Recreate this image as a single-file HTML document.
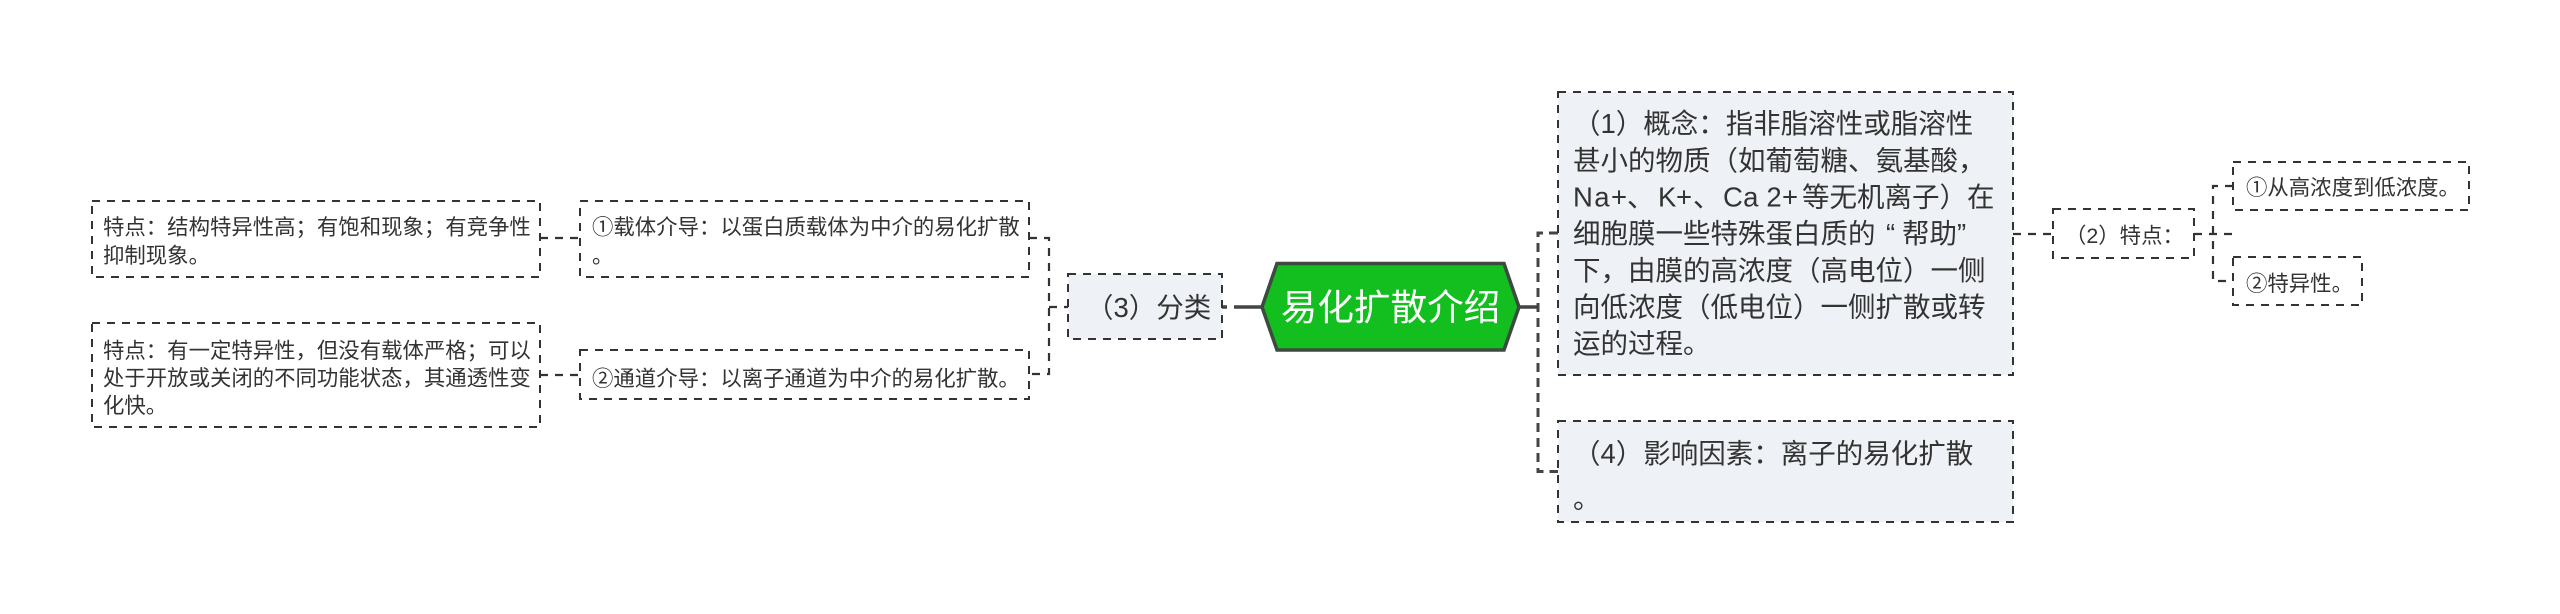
<!DOCTYPE html>
<html><head><meta charset="utf-8"><style>
html,body{margin:0;padding:0;background:#fff}
svg{display:block}
text{font-family:"Liberation Sans","Noto Sans CJK SC",sans-serif;fill:#333;white-space:pre}
.b{stroke:#333;stroke-width:2;stroke-dasharray:8 7;fill:#fff}
.g{fill:#eef1f5}
.c{stroke:#333;stroke-width:2.2;stroke-dasharray:8 7;fill:none}
.t{font-size:27.5px}
.s{font-size:21.4px}
</style></head><body>
<svg width="2560" height="614" viewBox="0 0 2560 614" xmlns="http://www.w3.org/2000/svg">
<rect width="2560" height="614" fill="#fff"/>
<!-- connectors -->
<path class="c" d="M540 238H580M540 375H580"/>
<path class="c" d="M1029 238H1049V374H1029M1049 307H1068"/>
<path d="M1222 307H1227M1234 307H1262M1519 307H1538" stroke="#444" stroke-width="3.5" fill="none"/>
<path d="M1558 233H1538V471.5H1558" stroke="#444" stroke-width="3" stroke-dasharray="9 6" fill="none"/>
<path class="c" d="M2013 234H2053M2194 234H2233"/>
<path class="c" d="M2233 186H2213V281H2233"/>
<!-- left boxes -->
<rect class="b" x="92" y="201" width="448" height="76"/>
<rect class="b" x="92" y="323" width="448" height="104"/>
<rect class="b" x="580" y="201" width="449" height="76"/>
<rect class="b" x="580" y="350" width="449" height="49"/>
<text class="s" x="103" y="234.5">特点：结构特异性高；有饱和现象；有竞争性</text>
<text class="s" x="103" y="263">抑制现象。</text>
<text class="s" x="103" y="358">特点：有一定特异性，但没有载体严格；可以</text>
<text class="s" x="103" y="385.5">处于开放或关闭的不同功能状态，其通透性变</text>
<text class="s" x="103" y="413">化快。</text>
<text class="s" x="592" y="234.5">①载体介导：以蛋白质载体为中介的易化扩散</text>
<text class="s" x="592" y="263">。</text>
<text class="s" x="592" y="386">②通道介导：以离子通道为中介的易化扩散。</text>
<!-- (3) -->
<rect class="b g" x="1068" y="274" width="154" height="65"/>
<text class="t" x="1086" y="317">（3）分类</text>
<!-- center -->
<polygon points="1277,263.5 1504,263.5 1519,307 1504,350 1277,350 1262,307" fill="#13bf1f" stroke="#3d4a40" stroke-width="3.5"/>
<text x="1390.5" y="320" text-anchor="middle" style="font-size:36.6px;fill:#fff">易化扩散介绍</text>
<!-- right boxes -->
<rect class="b g" x="1558" y="92" width="455" height="283"/>
<rect class="b g" x="1558" y="421" width="455" height="101"/>
<text class="t" x="1573" y="133">（1）概念：指非脂溶性或脂溶性</text>
<text class="t" x="1573" y="170">甚小的物质（如葡萄糖、氨基酸，</text>
<text class="t" x="1573" y="206.5" textLength="54" lengthAdjust="spacing">Na+</text>
<text class="t" x="1627" y="206.5">、</text>
<text class="t" x="1658" y="206.5" textLength="34" lengthAdjust="spacing">K+</text>
<text class="t" x="1693" y="206.5">、</text>
<text class="t" x="1723" y="206.5" textLength="75" lengthAdjust="spacing">Ca 2+</text>
<text class="t" x="1802" y="206.5">等无机离子）在</text>
<text class="t" x="1573" y="243">细胞膜一些特殊蛋白质的</text>
<text class="t" x="1886" y="243">“</text>
<text class="t" x="1902" y="243">帮助</text>
<text class="t" x="1957" y="243">”</text>
<text class="t" x="1573" y="280">下，由膜的高浓度（高电位）一侧</text>
<text class="t" x="1573" y="316.5">向低浓度（低电位）一侧扩散或转</text>
<text class="t" x="1573" y="353">运的过程。</text>
<text class="t" x="1573" y="463">（4）影响因素：离子的易化扩散</text>
<text class="t" x="1573" y="508">。</text>
<!-- (2) -->
<rect class="b" x="2053" y="209" width="141" height="49"/>
<text class="s" x="2065" y="243">（2）特点：</text>
<rect class="b" x="2233" y="162" width="236" height="48"/>
<text class="s" x="2246" y="195">①从高浓度到低浓度。</text>
<rect class="b" x="2233" y="257" width="129" height="48"/>
<text class="s" x="2246" y="291">②特异性。</text>
</svg>
</body></html>
